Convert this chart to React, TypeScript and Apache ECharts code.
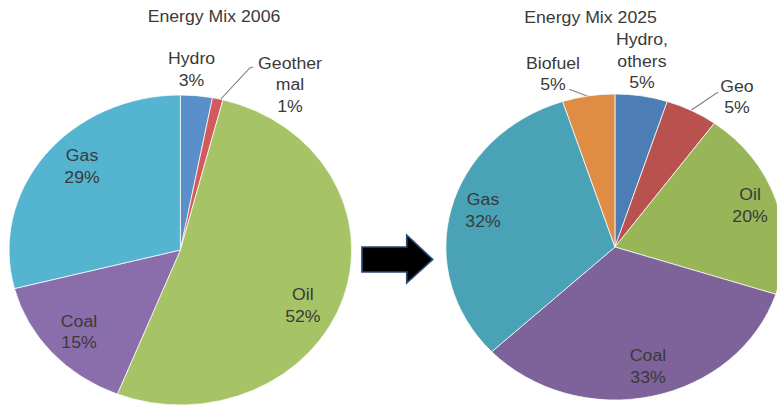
import React, { useEffect, useRef } from "react";
import * as echarts from "echarts";

// Energy mix shares (percent)
const mix2006Names = ["Hydro", "Geother\nmal", "Oil", "Coal", "Gas"];
const mix2006Values = [3, 1, 52, 15, 29];

const mix2025Names = ["Hydro,\nothers", "Geo", "Oil", "Coal", "Gas", "Biofuel"];
const mix2025Values = [5, 5, 20, 33, 32, 5];

const chartTitles = ["Energy Mix 2006", "Energy Mix 2025"];

const colors2006 = ["#5B8FC9", "#D25A5A", "#A6C466", "#8A6DAB", "#55B4CF"];
const colors2025 = ["#4C7EB5", "#B9524F", "#98B558", "#7D6399", "#4AA2B7", "#DF8C45"];

// The chart is laid out on a narrower canvas and stretched horizontally
const BASE_W = 703;
const BASE_H = 406;
const STRETCH = 777 / BASE_W;

const FONT = "'Liberation Sans', Arial, sans-serif";
const TEXT_COLOR = "#3a3a3a";

// Label anchor points (centre of each label block)
const labelPos2006: number[][] = [
  [173.3, 70],
  [262.4, 85],
  [274, 306],
  [71.5, 332.5],
  [74.2, 167],
];
const leader2006: (number[][] | null)[] = [
  null,
  [[199, 100], [226, 68], [229, 67]],
  null,
  null,
  null,
];

const labelPos2025: number[][] = [
  [580.8, 61.5],
  [666.8, 97.5],
  [678.6, 206],
  [586.3, 367],
  [437, 211],
  [500.3, 74.5],
];
const leader2025: (number[][] | null)[] = [
  null,
  [[625.7, 110], [648.3, 93], [650, 92.5]],
  null,
  null,
  null,
  [[533.5, 97], [517, 90], [515, 89.5]],
];

function buildData(names: string[], values: number[], colors: string[], leaders: (number[][] | null)[]) {
  return names.map((name, i) => ({
    name,
    value: values[i],
    itemStyle: { color: colors[i] },
    labelLine: { show: !!leaders[i] },
  }));
}

function pieSeries(
  name: string,
  center: number[],
  radius: number,
  data: any[],
  positions: number[][],
  leaders: (number[][] | null)[]
) {
  return {
    type: "pie",
    name,
    center,
    radius,
    startAngle: 90,
    clockwise: true,
    avoidLabelOverlap: false,
    silent: true,
    itemStyle: { borderColor: "#ffffff", borderWidth: 0.7 },
    label: {
      show: true,
      position: "outside",
      formatter: (p: any) => `${p.name}\n${p.value}%`,
      fontFamily: FONT,
      fontSize: 16,
      lineHeight: 21.5,
      color: TEXT_COLOR,
      align: "center",
    },
    labelLine: {
      show: false,
      lineStyle: { color: "#808080", width: 1 },
    },
    labelLayout: (params: any) => {
      const pos = positions[params.dataIndex];
      const out: any = {
        x: pos[0],
        y: pos[1],
        align: "center",
        verticalAlign: "middle",
      };
      const line = leaders[params.dataIndex];
      if (line) out.labelLinePoints = line;
      return out;
    },
    data,
  };
}

export default function App() {
  const ref = useRef<HTMLDivElement>(null);

  useEffect(() => {
    if (!ref.current) return;
    const chart = echarts.init(ref.current, undefined, { renderer: "svg" });
    chart.setOption({
      animation: false,
      backgroundColor: "#ffffff",
      graphic: [
        {
          type: "text",
          left: undefined,
          x: 193.6,
          y: 17,
          style: {
            text: chartTitles[0],
            fontFamily: FONT,
            fontSize: 16,
            fill: TEXT_COLOR,
            align: "center",
            verticalAlign: "middle",
          },
        },
        {
          type: "text",
          x: 534.3,
          y: 18,
          style: {
            text: chartTitles[1],
            fontFamily: FONT,
            fontSize: 16,
            fill: TEXT_COLOR,
            align: "center",
            verticalAlign: "middle",
          },
        },
        {
          type: "polygon",
          shape: {
            points: [
              [327.5, 247],
              [368, 247],
              [368, 235],
              [391.5, 259.5],
              [368, 283],
              [368, 272],
              [327.5, 272],
            ],
          },
          style: { fill: "#000000", stroke: "#2B4A78", lineWidth: 1.5 },
        },
      ],
      series: [
        pieSeries(
          "Energy Mix 2006",
          [163.2, 250],
          155,
          buildData(mix2006Names, mix2006Values, colors2006, leader2006),
          labelPos2006,
          leader2006
        ),
        pieSeries(
          "Energy Mix 2025",
          [556.4, 247],
          153,
          buildData(mix2025Names, mix2025Values, colors2025, leader2025),
          labelPos2025,
          leader2025
        ),
      ],
    });
    return () => chart.dispose();
  }, []);

  return (
    <div
      style={{
        position: "fixed",
        left: 0,
        top: 0,
        width: 777,
        height: BASE_H,
        overflow: "hidden",
        background: "#ffffff",
      }}
    >
      <div
        ref={ref}
        style={{
          width: BASE_W,
          height: BASE_H,
          transform: `scaleX(${STRETCH})`,
          transformOrigin: "0 0",
        }}
      />
    </div>
  );
}
